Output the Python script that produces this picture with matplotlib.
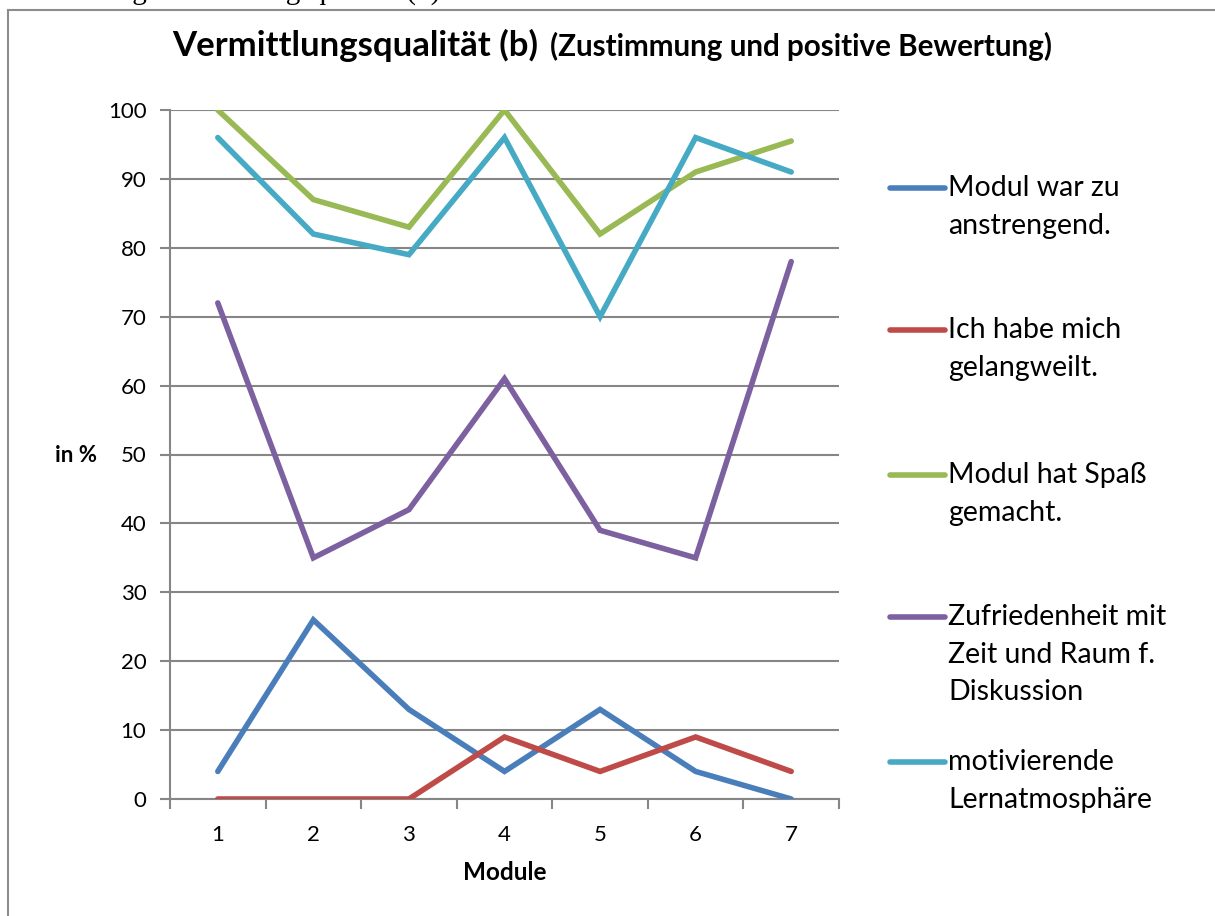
import matplotlib
matplotlib.use("Agg")
import matplotlib.pyplot as plt
from matplotlib.lines import Line2D

modules = [1, 2, 3, 4, 5, 6, 7]
anstrengend = [4, 26, 13, 4, 13, 4, 0]
gelangweilt = [0, 0, 0, 9, 4, 9, 4]
spass = [100, 87, 83, 100, 82, 91, 95.5]
zufriedenheit = [72, 35, 42, 61, 39, 35, 78]
motivierend = [96, 82, 79, 96, 70, 96, 91]

series_labels = [
    "Modul war zu\nanstrengend.",
    "Ich habe mich\ngelangweilt.",
    "Modul hat Spaß\ngemacht.",
    "Zufriedenheit mit\nZeit und Raum f.\nDiskussion",
    "motivierende\nLernatmosphäre",
]
y_ticks = [0, 10, 20, 30, 40, 50, 60, 70, 80, 90, 100]

colors = ["#4A7EBB", "#BE4B48", "#98B954", "#7D60A0", "#46AAC5"]
FONT = "Lato"
W, H = 1215, 916

fig = plt.figure(figsize=(W / 100, H / 100), dpi=100)

def fx(px):
    return px / W

def fy(py):
    return 1 - py / H

# outer frame (left & top edges visible)
fig.add_artist(Line2D([fx(8), fx(8)], [0, fy(10)], color="#8c8c8c", lw=1.5))
fig.add_artist(Line2D([fx(8), 1], [fy(10), fy(10)], color="#8c8c8c", lw=1.5))

# clipped caption above the frame
fig.text(fx(440), fy(-1.5), "Abbildung: Vermittlungsqualität (b)", family="Liberation Serif",
         fontsize=21, ha="right", va="baseline")

ax = fig.add_axes([fx(170), fy(799), fx(839) - fx(170), fy(110) - fy(799)])

all_series = [anstrengend, gelangweilt, spass, zufriedenheit, motivierend]
for vals, c in zip(all_series, colors):
    ax.plot(modules, vals, color=c, lw=4.0, solid_capstyle="round", solid_joinstyle="miter", zorder=3)

ax.set_xlim(0.5, 7.5)
ax.set_ylim(0, 100)
ax.set_yticks(y_ticks)
ax.set_yticklabels([str(v) for v in y_ticks], family=FONT, fontsize=16)
ax.set_xticks(modules)
ax.set_xticklabels([str(m) for m in modules], family=FONT, fontsize=16)
ax.set_xticks([m + 0.5 for m in [0] + modules], minor=True)
ax.tick_params(axis="x", which="major", length=0, pad=19)
ax.tick_params(axis="x", which="minor", length=7, width=1.5, color="#868686", direction="out")
ax.tick_params(axis="y", length=7, width=1.5, color="#868686", direction="out", pad=10)
ax.grid(axis="y", color="#868686", lw=1.5, zorder=1)
for s in ["top", "right"]:
    ax.spines[s].set_visible(False)
for s in ["left", "bottom"]:
    ax.spines[s].set_color("#868686")
    ax.spines[s].set_linewidth(1.5)
ax.set_axisbelow(True)

fig.text(fx(505), fy(873), "Module", family=FONT, fontsize=17.5, fontweight="bold", ha="center", va="center")
fig.text(fx(76), fy(455), "in %", family=FONT, fontsize=16, fontweight="bold", ha="center", va="center")

# title
t1 = fig.text(fx(172), fy(56), "Vermittlungsqualität (b)", family=FONT, fontsize=25,
              fontweight="bold", ha="left", va="baseline")
fig.canvas.draw()
bb = t1.get_window_extent()
fig.text(bb.x1 / W + fx(12), fy(56), "(Zustimmung und positive Bewertung)", family=FONT,
         fontsize=21.3, fontweight="bold", ha="left", va="baseline")

# legend (manual)
leg_y = [188, 330, 475, 617, 762]
for lab, c, y in zip(series_labels, colors, leg_y):
    fig.add_artist(Line2D([fx(890), fx(945)], [fy(y), fy(y)], color=c, lw=4.0, solid_capstyle="round"))
    fig.text(fx(948), fy(y - 13), lab, family=FONT, fontsize=20.5, ha="left", va="top",
             linespacing=1.55)

fig.savefig("out.png", dpi=100)
